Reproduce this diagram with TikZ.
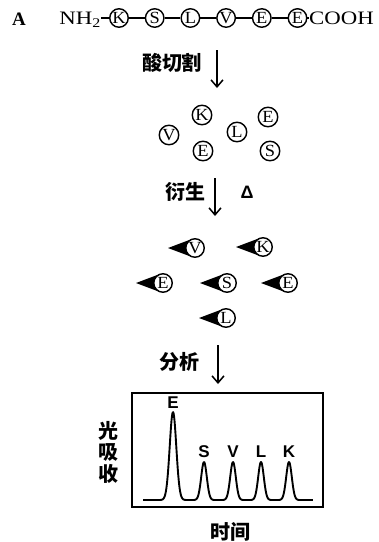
\documentclass[tikz,border=0pt]{standalone}
\usepackage{fontspec}
\setmainfont{Liberation Serif}
\newfontfamily\cjk{Noto Sans CJK SC}
\newfontfamily\serifwide[FakeStretch=1.2]{Liberation Serif}
\newfontfamily\serifres[FakeStretch=1.08]{Liberation Serif}
\newfontfamily\labelsans{Liberation Sans}
\usetikzlibrary{arrows.meta,calc}

% residue with a black tag pointing left
\newcommand\tagres[3]{%
  \fill (#2) ++(-27,0) -- ++(23.75,-8.93) -- ++(0,17.86) -- cycle;
  \node[res,fill=white] (#1) at (#2) {#3};}

\begin{document}
\begin{tikzpicture}[x=1pt,y=-1pt,
  declare function={pk(\t,\c,\s,\h)=\h*exp(-min(0.5*((\t-\c)/\s)^2,30));},
  res/.style={circle,draw,line width=1.4pt,minimum size=18.5pt,inner sep=0pt,
    font=\serifres\fontsize{17}{17}\selectfont},
  chem/.style={inner sep=0pt,font=\serifwide\fontsize{19}{19}\selectfont},
  bond/.style={line width=1.3pt},
  step label/.style={font=\cjk\bfseries\fontsize{20}{20}\selectfont},
  flow/.style={line width=1.5pt,-{Straight Barb[length=7pt,width=12pt,line width=1.5pt]}},
  peak label/.style={font=\labelsans\bfseries\fontsize{17}{17}\selectfont}]
\useasboundingbox (0,0) rectangle (379,542);

% peptide chain
\node[font=\bfseries\fontsize{19}{19}\selectfont] (lbl) at (19,19.5) {A};
\node[chem,anchor=east] (nh2) at (101,20) {NH\textsubscript{2}};
\foreach \n/\t [count=\i from 0] in {k1/K,s1/S,l1/L,v1/V,e1/E,e2/E}
  \node[res] (\n) at ({119+35.7*\i},18) {\t};
\node[chem,anchor=west] (cooh) at (309,18.5) {COOH};
\draw[bond] (nh2.east |- k1.west) -- (k1.west);
\draw[bond] (k1) -- (s1);
\draw[bond] (s1) -- (l1);
\draw[bond] (l1) -- (v1);
\draw[bond] (v1) -- (e1);
\draw[bond] (e1) -- (e2);
\draw[bond] (e2.east) -- (cooh.west |- e2.east);

% acid hydrolysis
\coordinate (a1s) at (217,50);
\coordinate (a1e) at (217,88);
\draw[flow] (a1s) -- (a1e);
\node[step label] (hyd) at (172,63) {酸切割};

% free residues
\begin{scope}[res/.append style={minimum size=19.5pt}]
\node[res] (fv) at (169,135) {V};
\node[res] (fk) at (202,115) {K};
\node[res] (fe1) at (203,151) {E};
\node[res] (fl) at (237,132) {L};
\node[res] (fe2) at (268,117) {E};
\node[res] (fs) at (270,151) {S};
\end{scope}

% derivatisation
\coordinate (a2s) at (215,178);
\coordinate (a2e) at (215,216);
\draw[flow] (a2s) -- (a2e);
\node[step label] (der) at (185,192) {衍生};
\node[font=\labelsans\bfseries\fontsize{18}{18}\selectfont] (heat) at (247,192) {Δ};

% tagged residues
\tagres{tv}{195,248}{V}
\tagres{tk}{263,247}{K}
\tagres{te1}{163,283}{E}
\tagres{ts}{227,283}{S}
\tagres{te2}{288,283}{E}
\tagres{tl}{226,318}{L}

% analysis
\coordinate (a3s) at (218,345);
\coordinate (a3e) at (218,384);
\draw[flow] (a3s) -- (a3e);
\node[step label] (ana) at (179,362) {分析};

% chromatogram
\node[draw,line width=1.5pt,minimum width=191pt,minimum height=114pt,inner sep=0pt]
  (chart) at (227.5,450) {};
\draw[line width=1.9pt,line join=round]
  plot[domain=143:313,samples=400] (\x,{500-pk(\x,173,3.3,88)-pk(\x,204,2.8,38)
    -pk(\x,233,2.8,38)-pk(\x,261,2.8,38)-pk(\x,289,2.8,38)});
\node[peak label] (pe) at (173,403) {E};
\node[peak label] (ps) at (204,452) {S};
\node[peak label] (pv) at (233,452) {V};
\node[peak label] (pl) at (261,452) {L};
\node[peak label] (pk) at (289,452) {K};
\node[font=\cjk\bfseries\fontsize{20}{21.5}\selectfont,align=center] (yax) at (108,452) {光\\吸\\收};
\node[step label] (xax) at (230,532) {时间};
\end{tikzpicture}
\end{document}
